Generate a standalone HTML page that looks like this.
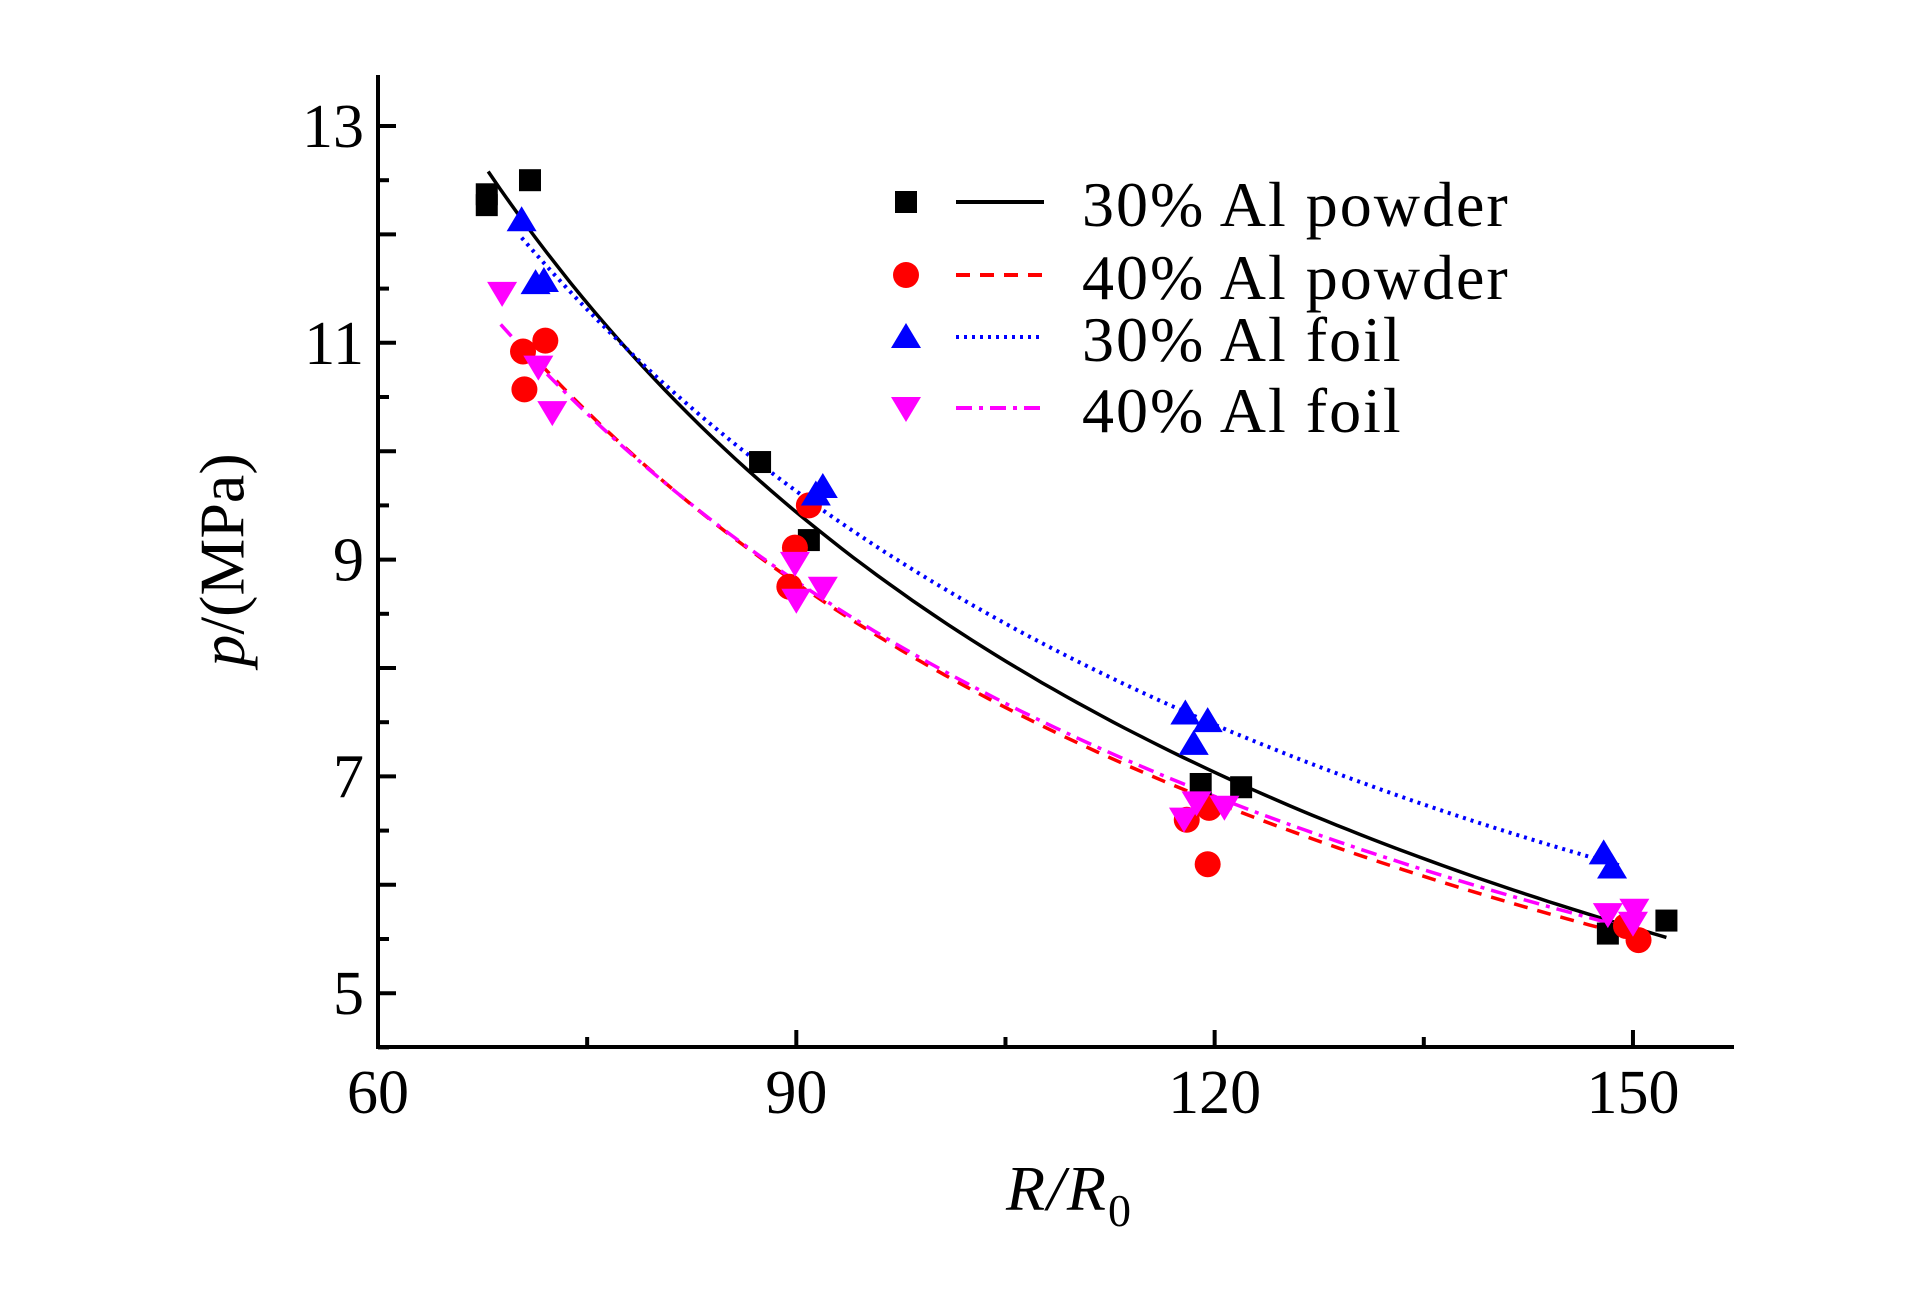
<!DOCTYPE html>
<html><head><meta charset="utf-8"><style>
html,body{margin:0;padding:0;background:#fff;}
svg{display:block;font-family:"Liberation Serif",serif;}
</style></head><body>
<svg id="chart" width="1923" height="1299" viewBox="0 0 1923 1299" xmlns="http://www.w3.org/2000/svg">
<g id="axes"></g>
<g id="curves"></g>
<g id="points"></g>
<g id="legend"></g>
<text x="229" y="560" font-size="64" text-anchor="middle" transform="rotate(-90 229 560)" dominant-baseline="middle"><tspan font-style="italic">p</tspan>/(MPa)</text>
<text x="1006" y="1210" font-size="64" font-style="italic" letter-spacing="2">R/R<tspan font-style="normal" font-size="46" dy="16">0</tspan></text>
</svg>
<script>
const xTicks=[60,90,120,150];
const xMinor=[75,105,135];
const yTicks=[5,7,9,11,13];
const yMajorAll=[5,6,7,8,9,10,11,12,13];
const yMinor=[4.5,5.5,6.5,7.5,8.5,9.5,10.5,11.5,12.5];

const seriesNames=["30% Al powder","40% Al powder","30% Al foil","40% Al foil"];
const seriesColors=["#000000","#ff0000","#0000ff","#ff00ff"];
const seriesDash=["none","14,10","3,5","16,7,4,7"];
const seriesMarker=["square","circle","up","down"];

const p30PowderX=[67.8,67.8,70.9,87.4,90.9,119,121.9,148.2,152.4];
const p30PowderY=[12.37,12.27,12.5,9.9,9.18,6.93,6.9,5.55,5.67];
const p40PowderX=[70.4,70.5,72,89.9,89.5,90.9,118,119.6,119.5,150.4,149.5];
const p40PowderY=[10.92,10.57,11.02,9.11,8.75,9.5,6.6,6.71,6.19,5.49,5.62];
const f30FoilX=[70.3,71.3,71.9,91.9,91.4,117.9,119.5,118.5,147.9,148.5];
const f30FoilY=[12.13,11.55,11.57,9.67,9.6,7.58,7.51,7.3,6.29,6.16];
const f40FoilX=[68.9,71.5,72.5,89.9,90,91.9,117.8,118.7,120.7,148.2,150.1,150];
const f40FoilY=[11.46,10.78,10.36,8.97,8.63,8.74,6.61,6.76,6.72,5.73,5.77,5.65];

// power-law fits p = A*(x/x0)^B over [x0,x1]
const fitA=[12.58,10.81,11.97,11.17];
const fitX0=[67.9,71.6,70.3,68.8];
const fitX1=[152.4,150,149.3,150];
const fitB=[-1.02,-0.908,-0.88,-0.888];

const NS="http://www.w3.org/2000/svg";
const xs=v=>378+(v-60)*13.944;
const ys=v=>126+(13-v)*108.4;
function mk(tag,attrs,parent){const e=document.createElementNS(NS,tag);for(const k in attrs)e.setAttribute(k,attrs[k]);parent.appendChild(e);return e;}
const axes=document.getElementById('axes');
let e;
e=mk('line',{x1:378,y1:75,x2:378,y2:1049,stroke:'#000','stroke-width':4},axes);


e=mk('line',{x1:376,y1:1047,x2:1734,y2:1047,stroke:'#000','stroke-width':4},axes);


yMajorAll.forEach(v=>{e=mk('line',{x1:378,y1:ys(v),x2:396,y2:ys(v),stroke:'#000','stroke-width':4},axes);

});
yMinor.forEach(v=>{e=mk('line',{x1:378,y1:ys(v),x2:389,y2:ys(v),stroke:'#000','stroke-width':4},axes);

});
yTicks.forEach(v=>{e=mk('text',{x:364,y:ys(v)+21,'font-size':62,'text-anchor':'end'},axes);e.textContent=v;

});
xTicks.forEach(v=>{e=mk('line',{x1:xs(v),y1:1047,x2:xs(v),y2:1030,stroke:'#000','stroke-width':4},axes);


e=mk('text',{x:xs(v),y:1113,'font-size':62,'text-anchor':'middle'},axes);e.textContent=v;

});
xMinor.forEach(v=>{e=mk('line',{x1:xs(v),y1:1047,x2:xs(v),y2:1037,stroke:'#000','stroke-width':4},axes);

});

function marker(type,cx,cy,color,parent){
  if(type==='square')return mk('rect',{x:cx-11,y:cy-11,width:22,height:22,fill:color},parent);
  if(type==='circle')return mk('circle',{cx:cx,cy:cy,r:13,fill:color},parent);
  if(type==='up')return mk('polygon',{points:`${cx-15},${cy+11} ${cx+15},${cy+11} ${cx},${cy-14}`,fill:color},parent);
  return mk('polygon',{points:`${cx-15},${cy-11} ${cx+15},${cy-11} ${cx},${cy+14}`,fill:color},parent);
}
const curves=document.getElementById('curves');
for(let s=0;s<4;s++){
  let d='';
  for(let i=0;i<=100;i++){const x=fitX0[s]+(fitX1[s]-fitX0[s])*i/100;const y=fitA[s]*Math.pow(x/fitX0[s],fitB[s]);d+=(i?'L':'M')+xs(x).toFixed(1)+','+ys(y).toFixed(1);}
  const a={d:d,fill:'none',stroke:seriesColors[s],'stroke-width':s===2?4:3.5};
  if(seriesDash[s]!=='none')a['stroke-dasharray']=seriesDash[s];
  e=mk('path',a,curves);
  
  
}
const pts=document.getElementById('points');
const allX=[p30PowderX,p40PowderX,f30FoilX,f40FoilX];
const allY=[p30PowderY,p40PowderY,f30FoilY,f40FoilY];
for(let s=0;s<4;s++){
  allX[s].forEach((x,i)=>{e=marker(seriesMarker[s],xs(x),ys(allY[s][i]),seriesColors[s],pts);
  
  });
}
const leg=document.getElementById('legend');
const legY=[202,275,337,408];
for(let s=0;s<4;s++){
  const y=legY[s];
  e=marker(seriesMarker[s],906,y,seriesColors[s],leg);
  
  
  const a={x1:956,y1:y,x2:1044,y2:y,stroke:seriesColors[s],'stroke-width':4};
  if(seriesDash[s]!=='none')a['stroke-dasharray']=seriesDash[s];
  e=mk('line',a,leg);
  
  
  e=mk('text',{x:1082,y:y+24,'font-size':64,'letter-spacing':2},leg);e.textContent=seriesNames[s];
  
  
}
</script>
</body></html>
